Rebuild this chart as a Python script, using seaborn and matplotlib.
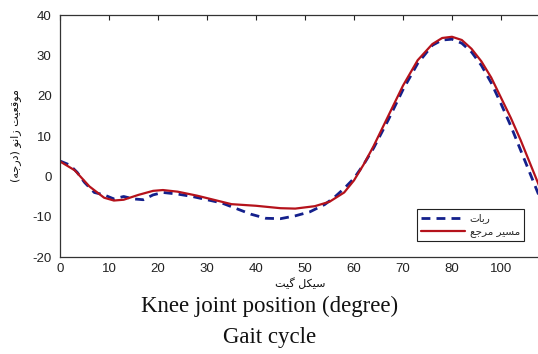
import matplotlib
matplotlib.use("Agg")
import matplotlib.pyplot as plt
import seaborn as sns
import numpy as np

# ---------------- data ----------------
x_ref = [0, 3, 6, 9, 11, 13, 16, 19, 21, 24, 28, 32, 35, 40, 45, 48, 52, 55, 58, 60,
         62, 64, 67, 70, 73, 76, 78, 80, 82, 84, 86, 88, 90, 92, 94, 96, 98]
y_ref = [3.7, 1.5, -2.5, -5.3, -6.0, -5.8, -4.6, -3.6, -3.4, -3.8, -4.8, -6.0, -6.9,
         -7.3, -7.9, -8.0, -7.4, -6.3, -4.0, -1.0, 3.0, 7.5, 15.0, 22.5, 28.8, 32.8,
         34.3, 34.6, 33.8, 31.6, 28.5, 24.5, 19.5, 14.5, 9.0, 3.0, -3.0]

x_robot = [0, 2, 3.5, 5, 7, 9, 11, 13, 15, 17, 19, 21, 24, 27, 30, 33, 36, 39, 42, 45,
           48, 51, 54, 56, 58, 60, 62, 64, 67, 70, 73, 76, 78, 80, 82, 84, 86, 88, 90,
           92, 94, 96, 98]
y_robot = [3.8, 2.8, 1.0, -1.5, -4.0, -4.6, -5.6, -5.0, -5.6, -5.8, -4.6, -4.0, -4.4,
           -5.0, -5.8, -6.6, -8.0, -9.4, -10.4, -10.5, -9.8, -8.8, -7.0, -5.2, -3.0,
           -0.5, 3.0, 7.0, 14.0, 21.5, 28.0, 32.5, 33.8, 34.0, 33.0, 30.8, 27.5, 23.2,
           18.0, 12.5, 6.5, 0.5, -5.5]

xtick_pos = [0, 10, 20, 30, 40, 50, 60, 70, 80, 90]
xtick_labels = ["0", "10", "20", "30", "40", "50", "60", "70", "80", "100"]
ytick_pos = [-20, -10, 0, 10, 20, 30, 40]

label_robot = "ربات"
label_ref = "مسیر مرجع"
xlabel_text = "سیکل گیت"
ylabel_text = "موقعیت زانو (درجه)"
caption_1 = "Knee joint position (degree)"
caption_2 = "Gait cycle"

# ------------- simple Arabic/Persian shaping for display -------------
FORMS = {  # isolated, final, initial, medial
    'ا': ('\uFE8D', '\uFE8E', None, None),
    'ب': ('\uFE8F', '\uFE90', '\uFE91', '\uFE92'),
    'ت': ('\uFE95', '\uFE96', '\uFE97', '\uFE98'),
    'ج': ('\uFE9D', '\uFE9E', '\uFE9F', '\uFEA0'),
    'د': ('\uFEA9', '\uFEAA', None, None),
    'ر': ('\uFEAD', '\uFEAE', None, None),
    'ز': ('\uFEAF', '\uFEB0', None, None),
    'س': ('\uFEB1', '\uFEB2', '\uFEB3', '\uFEB4'),
    'ع': ('\uFEC9', '\uFECA', '\uFECB', '\uFECC'),
    'ق': ('\uFED5', '\uFED6', '\uFED7', '\uFED8'),
    'ل': ('\uFEDD', '\uFEDE', '\uFEDF', '\uFEE0'),
    'م': ('\uFEE1', '\uFEE2', '\uFEE3', '\uFEE4'),
    'ن': ('\uFEE5', '\uFEE6', '\uFEE7', '\uFEE8'),
    'ه': ('\uFEE9', '\uFEEA', '\uFEEB', '\uFEEC'),
    'و': ('\uFEED', '\uFEEE', None, None),
    'ی': ('\uFBFC', '\uFBFD', '\uFBFE', '\uFBFF'),
    'ک': ('\uFB8E', '\uFB8F', '\uFB90', '\uFB91'),
    'گ': ('\uFB92', '\uFB93', '\uFB94', '\uFB95'),
}


def shape(text):
    out = []
    n = len(text)
    for i, ch in enumerate(text):
        if ch not in FORMS:
            out.append(ch)
            continue
        prev = text[i - 1] if i > 0 else None
        nxt = text[i + 1] if i < n - 1 else None
        join_prev = prev in FORMS and FORMS[prev][2] is not None
        join_next = nxt in FORMS and FORMS[ch][2] is not None
        iso, fin, ini, med = FORMS[ch]
        if join_prev and join_next:
            out.append(med)
        elif join_prev:
            out.append(fin)
        elif join_next:
            out.append(ini)
        else:
            out.append(iso)
    vis = "".join(reversed(out))
    return vis.translate(str.maketrans("()", ")("))


# ---------------- figure ----------------
sns.set_style("white")
plt.rcParams['font.family'] = ['Liberation Sans', 'DejaVu Sans']
plt.rcParams['axes.unicode_minus'] = False

fig = plt.figure(figsize=(5.38, 3.54), dpi=100)
ax = fig.add_axes([60 / 538, 97 / 354, 490 / 538, 242 / 354])

sns.lineplot(x=x_robot, y=y_robot, ax=ax, color="#14208c", linewidth=2.0,
             linestyle=(0, (3.2, 2.2)), label=shape(label_robot))
sns.lineplot(x=x_ref, y=y_ref, ax=ax, color="#b5121b", linewidth=1.6,
             label=shape(label_ref))

ax.set_xlim(0, 100)
ax.set_ylim(-20, 40)
ax.set_xticks(xtick_pos)
ax.set_xticklabels(xtick_labels)
ax.set_yticks(ytick_pos)
ax.tick_params(direction="in", length=3.5, width=0.8, top=True, right=True,
               labelsize=9.5, colors="#222222")
ax.tick_params(axis="x", pad=4)
ax.tick_params(axis="y", pad=6)
for s in ax.spines.values():
    s.set_color("#333333")
    s.set_linewidth(0.9)

ax.set_xlabel(shape(xlabel_text), family=['DejaVu Sans'], fontsize=8, color="#111111")
ax.xaxis.set_label_coords((300 - 60) / 490, -0.085)
ax.set_ylabel(shape(ylabel_text), family=['DejaVu Sans'], fontsize=8, color="#111111")
ax.yaxis.set_label_coords(-(60 - 21) / 490, 0.5)

leg = ax.legend(loc="upper left", bbox_to_anchor=((417 - 60) / 490, (257 - 209) / 242),
                frameon=True, fancybox=False, framealpha=1, edgecolor="#222222",
                prop={'family': 'DejaVu Sans', 'size': 7.5}, handlelength=4.2,
                handletextpad=0.45, borderpad=0.4, labelspacing=0.3, borderaxespad=0)
leg.get_frame().set_linewidth(0.8)

fig.text(270 / 538, 1 - 306 / 354, caption_1, ha="center", va="center",
         family=["Liberation Serif"], fontsize=16.5, color="#111111")
fig.text(270 / 538, 1 - 337 / 354, caption_2, ha="center", va="center",
         family=["Liberation Serif"], fontsize=16.5, color="#111111")

fig.savefig("out.png", dpi=100)
